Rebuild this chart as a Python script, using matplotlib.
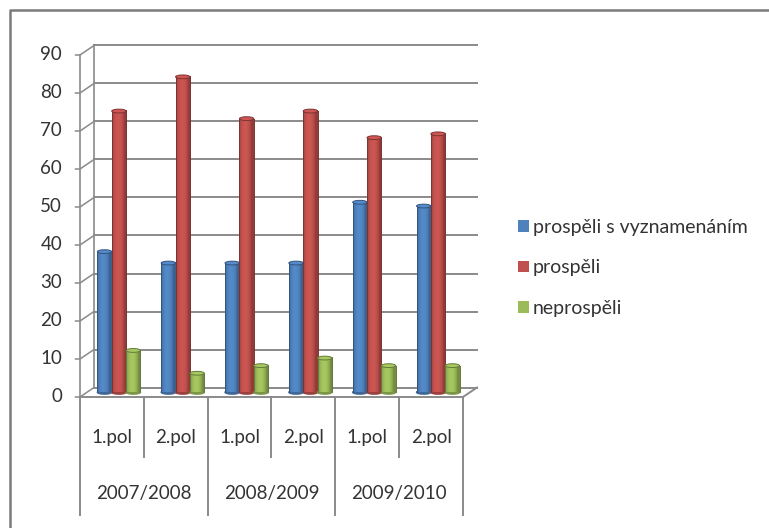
import numpy as np
import matplotlib
matplotlib.use("Agg")
import matplotlib.pyplot as plt
from matplotlib.patches import Ellipse, Patch
from matplotlib.lines import Line2D
from matplotlib.colors import to_rgb

plt.rcParams['font.family'] = ['Lato', 'DejaVu Sans']

# data
semesters = ["1.pol", "2.pol", "1.pol", "2.pol", "1.pol", "2.pol"]
years = ["2007/2008", "2008/2009", "2009/2010"]
series_names = ["prospěli s vyznamenáním", "prospěli", "neprospěli"]
honours = [37, 34, 34, 34, 50, 49]
passed = [74, 83, 72, 74, 67, 68]
failed = [11, 5, 7, 9, 7, 7]
colors = ["#4F81BD", "#C0504D", "#9BBB59"]
yticks = np.arange(0, 100, 10)

W, H = 769, 528
fig = plt.figure(figsize=(W / 100, H / 100), dpi=100)

# pixel geometry of the plot box
px_cat = 63.83
px_unit = 3.8
x0_px, y0_px = 80, 397
dx, dy = 14 / px_cat, 9.5 / px_unit
ncat = len(semesters)
xmin, xmax = -0.5, ncat - 0.5 + dx + 0.03
ymax = 93

ax = fig.add_axes([x0_px / W, (H - y0_px) / H,
                   (xmax - xmin) * px_cat / W, ymax * px_unit / H])
ax.set_axis_off()

grid_c = "#8a8a8a"
txt_c = "#333333"

# back wall gridlines + left diagonals
for v in yticks:
    ax.plot([xmin + dx, ncat - 0.5 + dx], [v + dy, v + dy], color=grid_c, lw=1.4, clip_on=False, zorder=1)
    ax.plot([xmin - 0.07, xmin, xmin + dx], [v, v, v + dy], color=grid_c, lw=1.1, clip_on=False, zorder=1)
    ax.text(xmin - 0.28, v, str(v), ha="right", va="center", fontsize=13.5, color=txt_c)
ax.plot([xmin + dx, xmin + dx], [dy, 90 + dy], color=grid_c, lw=1.2, zorder=1)
ax.plot([xmin, xmin], [0, 90], color=grid_c, lw=1.2, clip_on=False, zorder=1)
# floor
ax.plot([xmin, ncat - 0.5, ncat - 0.5 + dx], [0, 0, dy], color=grid_c, lw=1.4, clip_on=False, zorder=1)

# cylinder-like bars
bw = 0.225
t = np.linspace(0, 1, 40)
shade = 0.75 + 0.32 * np.sin(np.pi * np.clip(t * 1.2, 0, 1)) ** 0.6
for s, (vals, col) in enumerate(zip([honours, passed, failed], colors)):
    base = np.array(to_rgb(col))
    grad = np.clip(base[None, None, :] * shade[None, :, None], 0, 1)
    top_c = np.clip(base * 1.08, 0, 1)
    for i, v in enumerate(vals):
        left = i + dx / 2 + (s - 1.5) * bw
        b0 = dy / 2
        z = 3 + i * 3 + s
        ax.imshow(grad, extent=(left, left + bw, b0, b0 + v), aspect="auto",
                  zorder=z, interpolation="bilinear")
        ax.add_patch(Ellipse((left + bw / 2, b0), bw, 1.0, color=base * 0.8, zorder=z - 0.1))
        ax.add_patch(Ellipse((left + bw / 2, b0 + v), bw, 1.0, facecolor=top_c,
                             edgecolor=base * 0.65, lw=0.7, zorder=z + 0.1))
        ax.plot([left, left], [b0, b0 + v], color=base * 0.65, lw=0.7, zorder=z + 0.05)
        ax.plot([left + bw, left + bw], [b0, b0 + v], color=base * 0.65, lw=0.7, zorder=z + 0.05)

# category table below the floor
row1 = -60 / px_unit
row2 = -118 / px_unit
for i in range(ncat + 1):
    xb = i - 0.5
    bottom = row2 if i % 2 == 0 else row1
    ax.plot([xb, xb], [0, bottom], color=grid_c, lw=1.4, clip_on=False)
for i, lab in enumerate(semesters):
    ax.text(i, -40 / px_unit, lab, ha="center", va="center", fontsize=13.5, color=txt_c)
for j, lab in enumerate(years):
    ax.text(2 * j + 0.5, -96 / px_unit, lab, ha="center", va="center", fontsize=13.5, color=txt_c)

ax.set_xlim(xmin, xmax)
ax.set_ylim(0, ymax)

handles = [Patch(facecolor=c, edgecolor="none") for c in colors]
fig.legend(handles, series_names, loc="center left", bbox_to_anchor=(518 / W, 1 - 268 / H),
           frameon=False, fontsize=14, handlelength=0.55, handleheight=0.55,
           handletextpad=0.22, labelspacing=1.2, borderpad=0, borderaxespad=0,
           labelcolor=txt_c)

# outer frame (top and left edges)
fig.add_artist(Line2D([10 / W, 10 / W, 1], [0, 1 - 10 / H, 1 - 10 / H],
                      transform=fig.transFigure, color="#7a7a7a", lw=1.8))

fig.savefig("out.png", dpi=100)
